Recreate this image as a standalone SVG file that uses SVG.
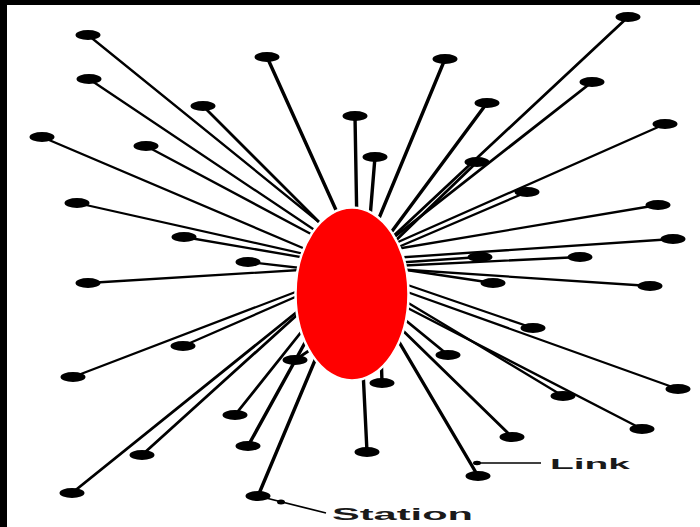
<svg xmlns="http://www.w3.org/2000/svg" width="700" height="527" viewBox="0 0 700 527">
<style>
.st{fill:#000}
#links line{stroke:#000;stroke-width:2.3;stroke-linecap:round}
#links line.m{stroke-width:2.8}
#links line.v{stroke-width:3.4}
.lbl{font-family:"Liberation Sans",Arial,sans-serif;font-weight:bold;fill:#1a1a1a}
.ptr{stroke:#000;stroke-width:1.7;fill:none}
</style>
<rect x="0" y="0" width="700" height="527" fill="#fff"/>
<rect x="0" y="0" width="700" height="5" fill="#000"/>
<rect x="0" y="0" width="7" height="527" fill="#000"/>
<g id="links">
<line x1="88" y1="35" x2="330" y2="231"/>
<line x1="89" y1="79" x2="322" y2="235"/>
<line class="v" x1="267" y1="57" x2="345" y2="230"/>
<line class="m" x1="203" y1="106" x2="330" y2="233"/>
<line x1="42" y1="137" x2="317" y2="254"/>
<line x1="146" y1="146" x2="326" y2="242"/>
<line x1="77" y1="203" x2="318" y2="257"/>
<line x1="184" y1="237" x2="318" y2="260"/>
<line x1="248" y1="262" x2="318" y2="270"/>
<line x1="88" y1="283" x2="316" y2="269"/>
<line class="v" x1="355" y1="116" x2="357" y2="230"/>
<line class="v" x1="375" y1="157" x2="369" y2="230"/>
<line class="v" x1="445" y1="59" x2="372" y2="235"/>
<line class="v" x1="487" y1="103" x2="384" y2="242"/>
<line class="m" x1="628" y1="17" x2="386" y2="243"/>
<line class="m" x1="592" y1="82" x2="388" y2="242"/>
<line x1="665" y1="124" x2="389" y2="246"/>
<line class="m" x1="477" y1="162" x2="389" y2="247"/>
<line x1="527" y1="192" x2="389" y2="251"/>
<line x1="658" y1="205" x2="390" y2="250"/>
<line x1="673" y1="239" x2="392" y2="258"/>
<line x1="480" y1="257" x2="393" y2="263"/>
<line x1="580" y1="257" x2="394" y2="266"/>
<line x1="493" y1="283" x2="393" y2="268"/>
<line x1="650" y1="286" x2="395" y2="269"/>
<line x1="533" y1="328" x2="396" y2="281"/>
<line x1="678" y1="389" x2="396" y2="288"/>
<line x1="563" y1="396" x2="395" y2="295"/>
<line x1="642" y1="429" x2="394" y2="301"/>
<line class="m" x1="448" y1="355" x2="393" y2="310"/>
<line class="m" x1="512" y1="437" x2="392" y2="320"/>
<line class="v" x1="478" y1="476" x2="392" y2="330"/>
<line class="v" x1="382" y1="383" x2="381" y2="350"/>
<line class="v" x1="367" y1="452" x2="362" y2="350"/>
<line x1="183" y1="346" x2="309" y2="291"/>
<line x1="73" y1="377" x2="306" y2="288"/>
<line class="m" x1="295" y1="360" x2="325" y2="340"/>
<line class="m" x1="235" y1="415" x2="306" y2="326"/>
<line class="v" x1="248" y1="446" x2="312" y2="330"/>
<line class="m" x1="142" y1="455" x2="308" y2="305"/>
<line class="m" x1="72" y1="493" x2="308" y2="303"/>
<line class="v" x1="258" y1="496" x2="321" y2="346"/>
</g>
<g id="stations">
<ellipse id="s1" class="st" cx="88" cy="35" rx="12.5" ry="5"/>
<ellipse id="s2" class="st" cx="89" cy="79" rx="12.5" ry="5"/>
<ellipse id="s3" class="st" cx="267" cy="57" rx="12.5" ry="5"/>
<ellipse id="s4" class="st" cx="203" cy="106" rx="12.5" ry="5"/>
<ellipse id="s5" class="st" cx="42" cy="137" rx="12.5" ry="5"/>
<ellipse id="s6" class="st" cx="146" cy="146" rx="12.5" ry="5"/>
<ellipse id="s7" class="st" cx="77" cy="203" rx="12.5" ry="5"/>
<ellipse id="s8" class="st" cx="184" cy="237" rx="12.5" ry="5"/>
<ellipse id="s9" class="st" cx="248" cy="262" rx="12.5" ry="5"/>
<ellipse id="s10" class="st" cx="88" cy="283" rx="12.5" ry="5"/>
<ellipse id="s11" class="st" cx="355" cy="116" rx="12.5" ry="5"/>
<ellipse id="s12" class="st" cx="375" cy="157" rx="12.5" ry="5"/>
<ellipse id="s13" class="st" cx="445" cy="59" rx="12.5" ry="5"/>
<ellipse id="s14" class="st" cx="487" cy="103" rx="12.5" ry="5"/>
<ellipse id="s15" class="st" cx="628" cy="17" rx="12.5" ry="5"/>
<ellipse id="s16" class="st" cx="592" cy="82" rx="12.5" ry="5"/>
<ellipse id="s17" class="st" cx="665" cy="124" rx="12.5" ry="5"/>
<ellipse id="s18" class="st" cx="477" cy="162" rx="12.5" ry="5"/>
<ellipse id="s19" class="st" cx="527" cy="192" rx="12.5" ry="5"/>
<ellipse id="s20" class="st" cx="658" cy="205" rx="12.5" ry="5"/>
<ellipse id="s21" class="st" cx="673" cy="239" rx="12.5" ry="5"/>
<ellipse id="s22" class="st" cx="480" cy="257" rx="12.5" ry="5"/>
<ellipse id="s23" class="st" cx="580" cy="257" rx="12.5" ry="5"/>
<ellipse id="s24" class="st" cx="493" cy="283" rx="12.5" ry="5"/>
<ellipse id="s25" class="st" cx="650" cy="286" rx="12.5" ry="5"/>
<ellipse id="s26" class="st" cx="533" cy="328" rx="12.5" ry="5"/>
<ellipse id="s27" class="st" cx="678" cy="389" rx="12.5" ry="5"/>
<ellipse id="s28" class="st" cx="563" cy="396" rx="12.5" ry="5"/>
<ellipse id="s29" class="st" cx="448" cy="355" rx="12.5" ry="5"/>
<ellipse id="s30" class="st" cx="642" cy="429" rx="12.5" ry="5"/>
<ellipse id="s31" class="st" cx="512" cy="437" rx="12.5" ry="5"/>
<ellipse id="s32" class="st" cx="478" cy="476" rx="12.5" ry="5"/>
<ellipse id="s33" class="st" cx="382" cy="383" rx="12.5" ry="5"/>
<ellipse id="s34" class="st" cx="367" cy="452" rx="12.5" ry="5"/>
<ellipse id="s35" class="st" cx="183" cy="346" rx="12.5" ry="5"/>
<ellipse id="s36" class="st" cx="73" cy="377" rx="12.5" ry="5"/>
<ellipse id="s37" class="st" cx="295" cy="360" rx="12.5" ry="5"/>
<ellipse id="s38" class="st" cx="235" cy="415" rx="12.5" ry="5"/>
<ellipse id="s39" class="st" cx="248" cy="446" rx="12.5" ry="5"/>
<ellipse id="s40" class="st" cx="142" cy="455" rx="12.5" ry="5"/>
<ellipse id="s41" class="st" cx="72" cy="493" rx="12.5" ry="5"/>
<ellipse id="s42" class="st" cx="258" cy="496" rx="12.5" ry="5"/>
</g>
<g id="hub">
<ellipse cx="352" cy="294" rx="56.5" ry="86.5" fill="#ff0000" stroke="#fff" stroke-width="2.5"/>
</g>
<g id="label-link">
<line class="ptr" x1="474" y1="463" x2="541" y2="463"/>
<ellipse cx="477" cy="463" rx="4" ry="2.2" fill="#000"/>
<text class="lbl" x="550" y="469" font-size="15" textLength="80" lengthAdjust="spacingAndGlyphs">Link</text>
</g>
<g id="label-station">
<line class="ptr" x1="262" y1="497" x2="326" y2="513"/>
<ellipse cx="281" cy="502" rx="4" ry="2.5" fill="#000"/>
<text class="lbl" x="332" y="520" font-size="17" textLength="141" lengthAdjust="spacingAndGlyphs">Station</text>
</g>
</svg>
